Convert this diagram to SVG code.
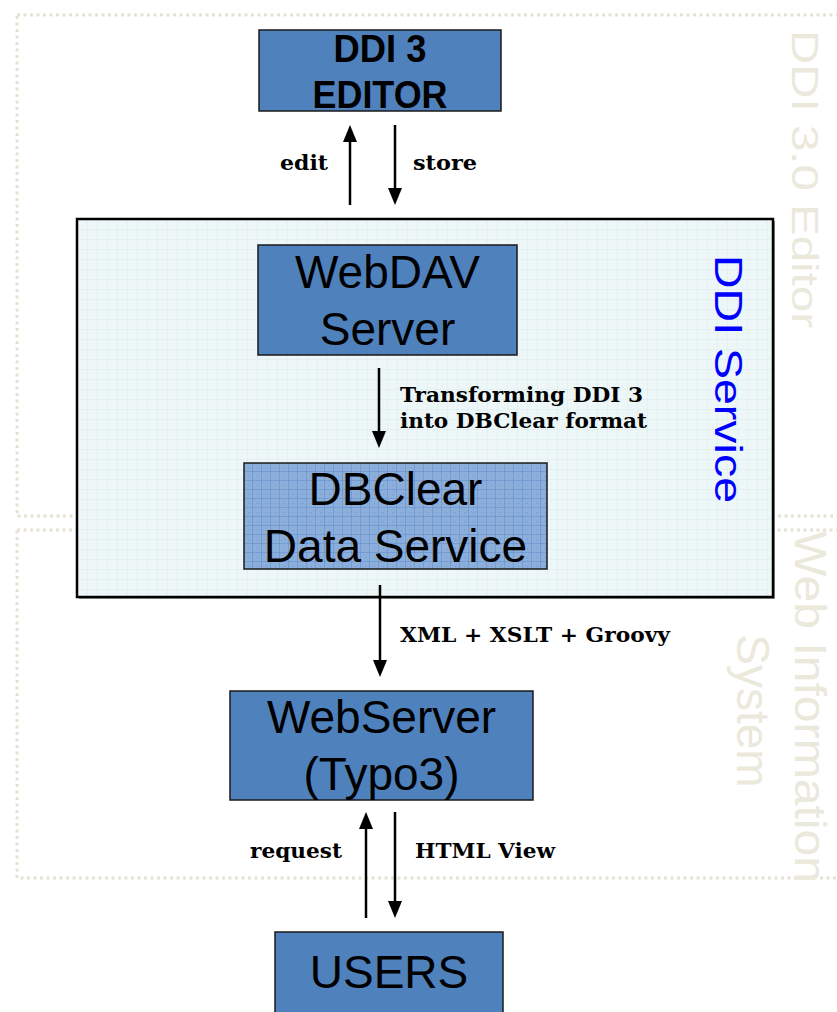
<svg xmlns="http://www.w3.org/2000/svg" width="837" height="1012" viewBox="0 0 837 1012">
<style>
.region{fill:none;stroke:#e6e2d2;stroke-width:3;stroke-dasharray:3 3.5}
.wm{font-family:"Liberation Sans",Arial,sans-serif;fill:#ebe8dc}
.box{fill:#4f81bd;stroke:#1a1a1a;stroke-width:1.5}
.big{font-family:"Liberation Sans",Arial,sans-serif;font-size:46px;fill:#000;text-anchor:middle}
.bold{font-family:"Liberation Sans",Arial,sans-serif;font-weight:bold;font-size:39px;fill:#000;text-anchor:middle}
.lbl{font-family:"DejaVu Serif","Liberation Serif",serif;font-weight:bold;font-size:21px;fill:#000}
.arr{stroke:#000;stroke-width:2.5;fill:none;marker-end:url(#ah)}
</style>
<defs>
<marker id="ah" viewBox="0 0 17 14" refX="9" refY="7" markerWidth="17" markerHeight="14" markerUnits="userSpaceOnUse" orient="auto">
<path d="M0,0 L17,7 L0,14 z" fill="#000"/>
</marker>
<pattern id="grid" width="10" height="10" patternUnits="userSpaceOnUse" x="78" y="220">
<rect width="10" height="10" fill="#eef7f8"/>
<path d="M10,0 V10 M0,10 H10" stroke="#dbeaeb" stroke-width="1"/>
</pattern>
<pattern id="grid2" width="9" height="9" patternUnits="userSpaceOnUse" x="244" y="463">
<rect width="9" height="9" fill="#8caedb"/>
<path d="M9,0 V9 M0,9 H9" stroke="#5e8bcb" stroke-width="1"/>
<circle cx="4.5" cy="4.5" r="0.6" fill="#6a93cd"/>
</pattern>
</defs>

<g id="regions">
<rect class="region" x="17" y="15" width="840" height="501"/>
<rect class="region" x="17" y="530" width="840" height="348"/>
<text class="wm" font-size="37" x="792" y="30" transform="rotate(90 792 30)" textLength="298" lengthAdjust="spacingAndGlyphs">DDI 3.0 Editor</text>
<text class="wm" font-size="45" x="795" y="707" text-anchor="middle" transform="rotate(90 795 707)" textLength="352" lengthAdjust="spacingAndGlyphs">Web Information</text>
<text class="wm" font-size="46" x="737" y="711" text-anchor="middle" transform="rotate(90 737 711)">System</text>
</g>

<g id="ddi-service">
<rect x="79" y="221" width="696" height="378" fill="#9a9a9a"/>
<rect x="77" y="219" width="696" height="378" fill="url(#grid)" stroke="#000" stroke-width="2.5"/>
<text x="715" y="255" font-family="'Liberation Sans',Arial,sans-serif" font-size="39" fill="#0000ff" transform="rotate(90 715 255)" textLength="248" lengthAdjust="spacingAndGlyphs">DDI Service</text>
</g>

<g id="editor">
<rect class="box" x="259" y="30" width="242" height="81"/>
<text class="bold" x="380" y="62" textLength="93" lengthAdjust="spacingAndGlyphs">DDI 3</text>
<text class="bold" x="380" y="108" textLength="135" lengthAdjust="spacingAndGlyphs">EDITOR</text>
</g>

<g id="webdav">
<rect class="box" x="258" y="245" width="259" height="110"/>
<text class="big" x="387.5" y="288">WebDAV</text>
<text class="big" x="387.5" y="345">Server</text>
</g>

<g id="dbclear">
<rect x="244" y="463" width="303" height="106" fill="url(#grid2)" stroke="#1a1a1a" stroke-width="1.5"/>
<text class="big" x="395.5" y="505">DBClear</text>
<text class="big" x="395.5" y="562">Data Service</text>
</g>

<g id="webserver">
<rect class="box" x="230" y="691" width="303" height="109"/>
<text class="big" x="381.5" y="733">WebServer</text>
<text class="big" x="381.5" y="790">(Typo3)</text>
</g>

<g id="users">
<rect class="box" x="275" y="932" width="228" height="90"/>
<text class="big" x="389" y="988">USERS</text>
</g>

<g id="connectors">
<line class="arr" x1="350" y1="205" x2="350" y2="133"/>
<line class="arr" x1="395" y1="125" x2="395" y2="197"/>
<line class="arr" x1="379" y1="368" x2="379" y2="440"/>
<line class="arr" x1="380" y1="585" x2="380" y2="669"/>
<line class="arr" x1="366" y1="918" x2="366" y2="820"/>
<line class="arr" x1="395" y1="812" x2="395" y2="910"/>
<text class="lbl" x="280" y="170" textLength="48" lengthAdjust="spacingAndGlyphs">edit</text>
<text class="lbl" x="413" y="170" textLength="64" lengthAdjust="spacingAndGlyphs">store</text>
<text class="lbl" x="400" y="402" textLength="243" lengthAdjust="spacingAndGlyphs">Transforming DDI 3</text>
<text class="lbl" x="400" y="428" textLength="247" lengthAdjust="spacingAndGlyphs">into DBClear format</text>
<text class="lbl" x="400" y="642" textLength="270" lengthAdjust="spacingAndGlyphs">XML + XSLT + Groovy</text>
<text class="lbl" x="250" y="858" textLength="92" lengthAdjust="spacingAndGlyphs">request</text>
<text class="lbl" x="415" y="858" textLength="140" lengthAdjust="spacingAndGlyphs">HTML View</text>
</g>
</svg>
